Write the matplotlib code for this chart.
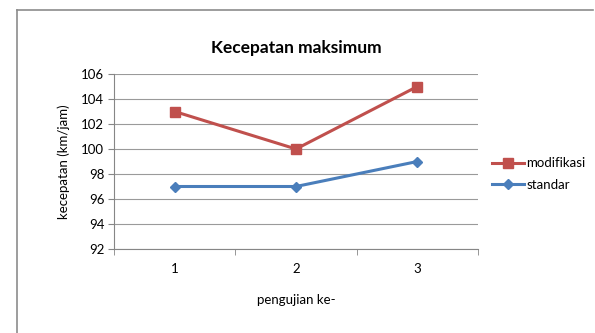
import matplotlib.pyplot as plt
from matplotlib.lines import Line2D

plt.rcParams['font.family'] = ['Lato', 'DejaVu Sans']

pengujian = ['1', '2', '3']
modifikasi = [103, 100, 105]
standar = [97, 97, 99]
y_ticks = [92, 94, 96, 98, 100, 102, 104, 106]

W, H = 595, 333
fig = plt.figure(figsize=(W / 100, H / 100), dpi=100)
ax = fig.add_axes([114 / W, 1 - 249 / H, (478 - 114) / W, (249 - 74) / H])

x = list(range(len(pengujian)))
ax.plot(x, modifikasi, color='#C0504D', lw=2.2, marker='s', ms=7, label='modifikasi')
ax.plot(x, standar, color='#4A7EBB', lw=2.2, marker='D', ms=5.5, label='standar')

ax.set_xlim(-0.5, len(pengujian) - 0.5)
ax.set_ylim(92, 106)
ax.set_yticks(y_ticks)
ax.set_xticks(x)
ax.set_xticklabels(pengujian)
ax.set_xticks([-0.5, 0.5, 1.5, 2.5], minor=True)
ax.tick_params(axis='x', which='major', length=0, pad=10, labelsize=9.5)
ax.tick_params(axis='x', which='minor', length=4, color='#868686')
ax.tick_params(axis='y', length=4, color='#868686', labelsize=9.5, pad=3)
ax.grid(axis='y', color='#9a9a9a', lw=0.8)
ax.set_axisbelow(True)
for s in ['top', 'right']:
    ax.spines[s].set_visible(False)
for s in ['left', 'bottom']:
    ax.spines[s].set_color('#868686')
    ax.spines[s].set_linewidth(0.8)

ax.set_title('Kecepatan maksimum', fontsize=12.5, fontweight='bold', pad=15)
ax.set_ylabel('kecepatan (km/jam)', fontsize=9.5, labelpad=8)
ax.set_xlabel('pengujian ke-', fontsize=9.5, labelpad=14)

fig.legend(loc='center left', bbox_to_anchor=(480 / W, 1 - 174 / H), frameon=False,
           fontsize=9.5, handlelength=2.4, handletextpad=0.2, labelspacing=0.7)

# chart frame: only top and left edges
fig.add_artist(Line2D([17 / W, 593 / W], [1 - 10 / H, 1 - 10 / H], color='#8c8c8c', lw=1.2))
fig.add_artist(Line2D([17 / W, 17 / W], [1 - 10 / H, 0], color='#8c8c8c', lw=1.2))

fig.savefig('out.png', dpi=100)
